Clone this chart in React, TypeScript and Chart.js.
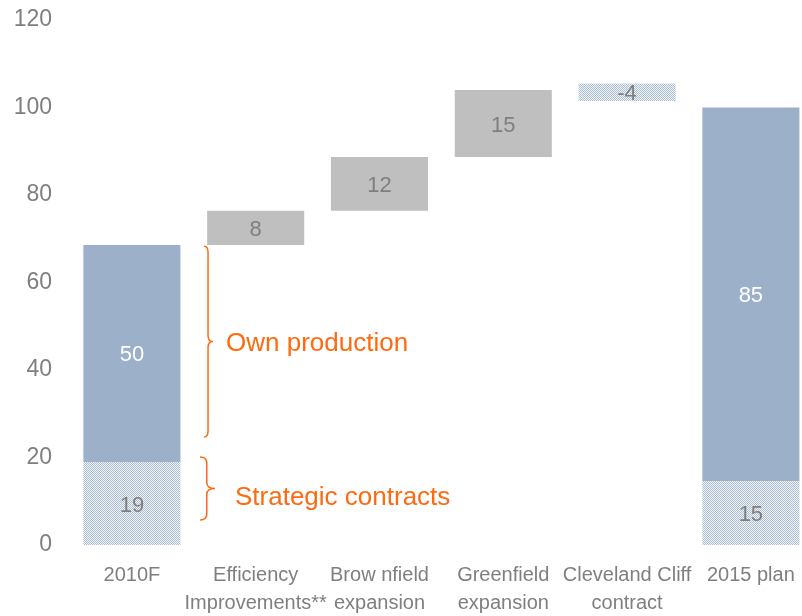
import React, { useEffect, useRef } from "react";
import { Chart, registerables } from "chart.js";

Chart.register(...registerables);

const categories: string[][] = [
  ["2010F"],
  ["Efficiency", "Improvements**"],
  ["Brow nfield", "expansion"],
  ["Greenfield", "expansion"],
  ["Cleveland Cliff", "contract"],
  ["2015 plan"],
];

// floating bar ranges [from, to]
const contractRanges: ([number, number] | null)[] = [[0, 19], null, null, null, [101.5, 105.5], [0, 14.6]];
const contractLabels: string[] = ["19", "", "", "", "-4", "15"];
const ownRanges: ([number, number] | null)[] = [[19, 68.6], null, null, null, null, [14.6, 100]];
const ownLabels: string[] = ["50", "", "", "", "", "85"];
const stepRanges: ([number, number] | null)[] = [null, [68.6, 76.4], [76.4, 88.7], [88.7, 104], null, null];
const stepLabels: string[] = ["", "8", "12", "15", "", ""];

const yTicks: number[] = [0, 20, 40, 60, 80, 100, 120];

const annotations = [
  { text: "Own production", from: 68.3, to: 24.7, xBrace: 204, tip: 213, textX: 226, textDy: 2 },
  { text: "Strategic contracts", from: 20.1, to: 5.7, xBrace: 200, tip: 215, textX: 235, textDy: 9 },
];

const FONT = "'Liberation Sans', Arial, sans-serif";
const GRAY_TEXT = "#7f7f7f";
const BLUE = "#9db0c9";
const GRAY = "#bfbfbf";
const ORANGE = "#ff6a10";

function makePattern(): CanvasPattern | string {
  const c = document.createElement("canvas");
  c.width = 2;
  c.height = 2;
  const ctx = c.getContext("2d");
  if (!ctx) return "#d0d9e5";
  ctx.fillStyle = "#f2f4f8";
  ctx.fillRect(0, 0, 2, 2);
  ctx.fillStyle = "#abbdd3";
  ctx.fillRect(0, 0, 1, 1);
  ctx.fillRect(1, 1, 1, 1);
  const p = ctx.createPattern(c, "repeat");
  return p || "#d0d9e5";
}

export default function App() {
  const ref = useRef<HTMLCanvasElement | null>(null);

  useEffect(() => {
    if (!ref.current) return;
    const toData = (arr: ([number, number] | null)[]) =>
      arr.map((r, i) => (r ? { x: i, y: r } : null)).filter((d) => d !== null) as any[];
    const toLabels = (arr: ([number, number] | null)[], labs: string[]) =>
      arr.map((r, i) => (r ? labs[i] : null)).filter((d) => d !== null) as string[];

    const labelPlugin = {
      id: "valueLabels",
      afterDatasetsDraw(chart: any) {
        const ctx = chart.ctx;
        ctx.save();
        ctx.textAlign = "center";
        ctx.textBaseline = "middle";
        ctx.font = `22px ${FONT}`;
        chart.data.datasets.forEach((ds: any, di: number) => {
          const meta = chart.getDatasetMeta(di);
          meta.data.forEach((bar: any, i: number) => {
            const lab = ds.valueLabels[i];
            if (!lab) return;
            const yMid = (bar.y + bar.base) / 2;
            ctx.fillStyle = ds.labelColor;
            ctx.fillText(lab, bar.x, yMid + 2);
          });
        });
        // braces & annotation text
        const ys = chart.scales.y;
        ctx.strokeStyle = ORANGE;
        ctx.lineWidth = 1.5;
        annotations.forEach((a) => {
          const y0 = ys.getPixelForValue(a.from);
          const y1 = ys.getPixelForValue(a.to);
          const ym = (y0 + y1) / 2;
          const xv = a.xBrace + (a.tip - a.xBrace) * 0.45;
          const r = 6;
          ctx.beginPath();
          ctx.moveTo(a.xBrace, y0);
          ctx.quadraticCurveTo(xv, y0, xv, y0 + r);
          ctx.lineTo(xv, ym - r);
          ctx.quadraticCurveTo(xv, ym, a.tip, ym);
          ctx.quadraticCurveTo(xv, ym, xv, ym + r);
          ctx.lineTo(xv, y1 - r);
          ctx.quadraticCurveTo(xv, y1, a.xBrace, y1);
          ctx.stroke();
          ctx.fillStyle = ORANGE;
          ctx.textAlign = "left";
          ctx.font = `26px ${FONT}`;
          ctx.fillText(a.text, a.textX, ym + a.textDy);
        });
        ctx.restore();
      },
    };

    const chart = new Chart(ref.current, {
      type: "bar",
      data: {
        datasets: [
          {
            data: toData(contractRanges),
            valueLabels: toLabels(contractRanges, contractLabels),
            labelColor: GRAY_TEXT,
            backgroundColor: makePattern(),
            borderWidth: 0,
          } as any,
          {
            data: toData(ownRanges),
            valueLabels: toLabels(ownRanges, ownLabels),
            labelColor: "#ffffff",
            backgroundColor: BLUE,
            borderWidth: 0,
          } as any,
          {
            data: toData(stepRanges),
            valueLabels: toLabels(stepRanges, stepLabels),
            labelColor: GRAY_TEXT,
            backgroundColor: GRAY,
            borderWidth: 0,
          } as any,
        ],
      },
      options: {
        animation: false,
        responsive: false,
        maintainAspectRatio: false,
        layout: { padding: { top: 20, left: 0, right: 0, bottom: 0 } },
        plugins: { legend: { display: false }, tooltip: { enabled: false } },
        datasets: { bar: { grouped: false, barPercentage: 0.784, categoryPercentage: 1 } } as any,
        scales: {
          x: {
            type: "linear",
            offset: false,
            min: -0.5,
            max: 5.413,
            grid: { display: false, drawTicks: false, offset: false },
            border: { display: false },
            afterBuildTicks: (axis: any) => {
              axis.ticks = categories.map((_, i) => ({ value: i }));
            },
            afterFit: (scale: any) => {
              scale.height = 71;
              scale.paddingLeft = 0;
              scale.paddingRight = 0;
            },
            ticks: {
              autoSkip: false,
              maxRotation: 0,
              minRotation: 0,
              padding: 17,
              color: GRAY_TEXT,
              font: { family: FONT, size: 20, lineHeight: 1.38 },
              callback: (v: any) => categories[Math.round(Number(v))] ?? "",
            },
          },
          y: {
            type: "linear",
            min: 0,
            max: 120,
            grid: { display: false, drawTicks: false },
            border: { display: false },
            afterBuildTicks: (axis: any) => {
              axis.ticks = yTicks.map((v) => ({ value: v }));
            },
            afterFit: (scale: any) => {
              scale.width = 70;
              scale.paddingTop = 0;
              scale.paddingBottom = 0;
            },
            ticks: {
              padding: 18,
              color: GRAY_TEXT,
              font: { family: FONT, size: 23 },
            },
          },
        },
      } as any,
      plugins: [labelPlugin],
    });
    return () => chart.destroy();
  }, []);

  return (
    <div style={{ position: "fixed", left: 0, top: 0, width: 802, height: 616, background: "#fff" }}>
      <canvas ref={ref} width={802} height={616} style={{ display: "block", width: 802, height: 616 }} />
    </div>
  );
}
